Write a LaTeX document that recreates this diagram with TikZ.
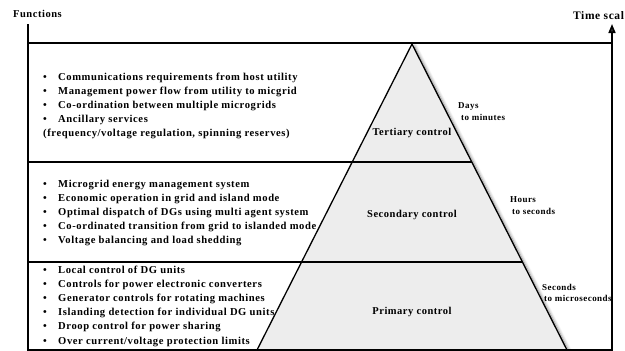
\documentclass[tikz,border=0pt]{standalone}
\usepackage{fontspec}
\setmainfont{Liberation Serif}
\newfontfamily\figfont[LetterSpace=5]{Liberation Serif}
\newfontfamily\listfont[LetterSpace=5.5]{Liberation Serif}
\usetikzlibrary{arrows.meta,shadows.blur}

\begin{document}
\begin{tikzpicture}[x=1pt,y=-1pt,
  frame/.style={line width=1.6pt, line cap=rect},
  tierline/.style={line width=1.3pt},
  pyramid/.style={line width=1.3pt, fill=gray!14, line join=miter,
    blur shadow={shadow xshift=2.5pt, shadow yshift=-2pt, shadow blur steps=8, shadow blur radius=3pt, shadow opacity=45}},
  item/.style={anchor=base west, inner sep=0pt, font=\listfont\bfseries\fontsize{10.6}{12}\selectfont},
  tiername/.style={anchor=base, inner sep=0pt, font=\figfont\bfseries\fontsize{10.5}{12}\selectfont},
  timetag/.style={anchor=base west, inner sep=0pt, font=\figfont\bfseries\fontsize{9}{10}\selectfont},
  axistitle/.style={inner sep=0pt, font=\figfont\bfseries\fontsize{10.5}{12}\selectfont}
]
\useasboundingbox (0,0) rectangle (625,351);

% pyramid of control levels
\coordinate (apex) at (412,44);
\coordinate (bl) at (257,350);
\coordinate (br) at (567,350);
\filldraw[pyramid] (apex) -- (br) -- (bl) -- cycle;

% axes and frame
\coordinate (ftop) at (28,25);
\coordinate (fbot) at (28,350);
\coordinate (tbot) at (612,350);
\coordinate (ttop) at (612,24);
\draw[frame] (ftop) -- (fbot) -- (tbot);
\draw[frame, -{Triangle[width=7pt,length=9pt]}] (tbot) -- (ttop);
\draw[frame] (28,43) -- (612,43);

% tier boundaries
\draw[tierline] (28,162) -- (472,162);
\draw[tierline] (28,262) -- (523,262);

% axis titles
\node[axistitle, anchor=base west] (functions) at (13,17) {Functions};
\node[axistitle, anchor=base west, font=\figfont\bfseries\fontsize{11.5}{12}\selectfont] (timescale) at (573,19) {Time scal};

% tertiary functions
\foreach \t [count=\i] in {{Communications requirements from host utility},
  {Management power flow from utility to micgrid},
  {Co-ordination between multiple microgrids},
  {Ancillary services}}
  \node[item] (ter-\i) at (43,{80+14*(\i-1)}) {\makebox[15pt][l]{\textbullet}\t};
\node[item] (ter-5) at (43,136) {(frequency/voltage regulation, spinning reserves)};

% secondary functions
\foreach \t [count=\i] in {{Microgrid energy management system},
  {Economic operation in grid and island mode},
  {Optimal dispatch of DGs using multi agent system},
  {Co-ordinated transition from grid to islanded mode},
  {Voltage balancing and load shedding}}
  \node[item] (sec-\i) at (43,{187+14*(\i-1)}) {\makebox[15pt][l]{\textbullet}\t};

% primary functions
\foreach \t [count=\i] in {{Local control of DG units},
  {Controls for power electronic converters},
  {Generator controls for rotating machines},
  {Islanding detection for individual DG units},
  {Droop control for power sharing},
  {Over current/voltage protection limits}}
  \node[item] (pri-\i) at (43,{273+14.2*(\i-1)}) {\makebox[15pt][l]{\textbullet}\t};

% tier names
\node[tiername] (tertiary) at (412,135) {Tertiary control};
\node[tiername] (secondary) at (412,217) {Secondary control};
\node[tiername] (primary) at (412,314) {Primary control};

% time scales
\node[timetag] (days) at (458,108.5) {Days};
\node[timetag] (days2) at (461,120.5) {to minutes};
\node[timetag] (hours) at (510,202.5) {Hours};
\node[timetag] (hours2) at (512,214.5) {to seconds};
\node[timetag] (secs) at (542,290.5) {Seconds};
\node[timetag] (secs2) at (544,301.5) {to microseconds};
\end{tikzpicture}
\end{document}
